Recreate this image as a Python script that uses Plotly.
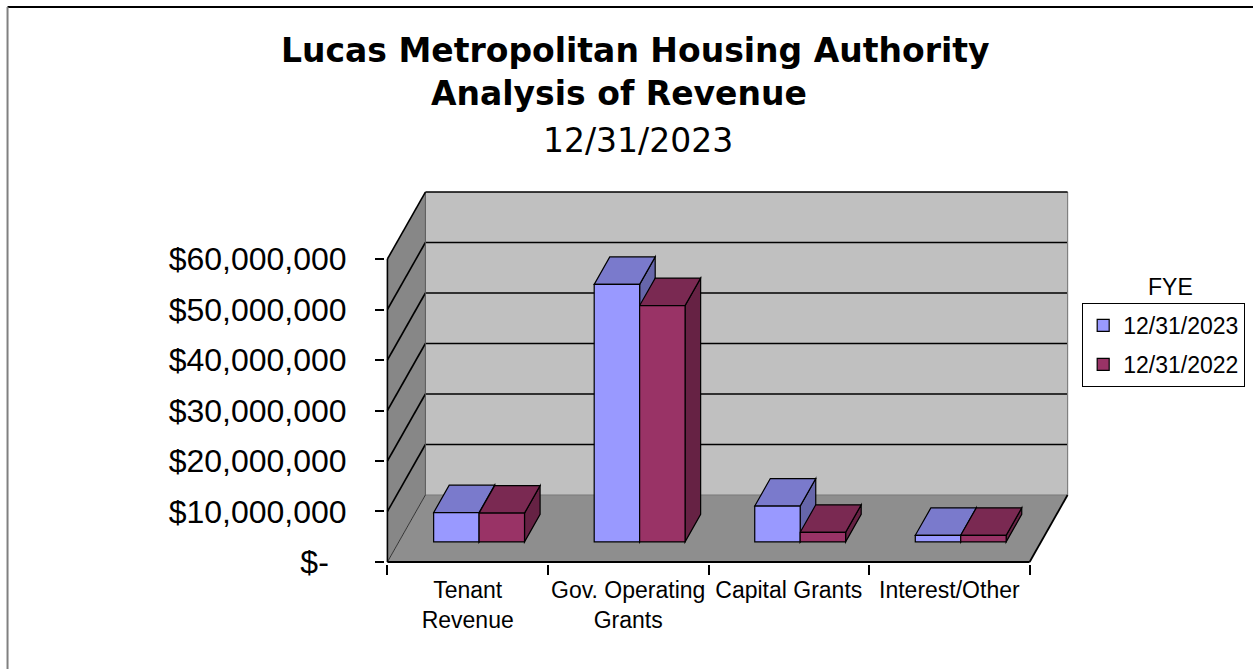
import plotly.graph_objects as go

# ---------------- data ----------------
categories = ["Tenant<br>Revenue", "Gov. Operating<br>Grants", "Capital Grants", "Interest/Other"]
series_names = ["12/31/2023", "12/31/2022"]
rev_2023 = [5.8e6, 51.0e6, 7.1e6, 1.3e6]
rev_2022 = [5.7e6, 46.8e6, 1.9e6, 1.3e6]
y_tick_values = [0, 10e6, 20e6, 30e6, 40e6, 50e6, 60e6]
y_tick_labels = ["$-\u00a0\u00a0", "$10,000,000", "$20,000,000", "$30,000,000",
                 "$40,000,000", "$50,000,000", "$60,000,000"]
title_lines = ["Lucas Metropolitan Housing Authority", "Analysis of Revenue", "12/31/2023"]
legend_title = "FYE"

# ---------------- geometry / styles ----------------
W, H = 1253, 669
X0_PX, CAT_PX = 387.0, 160.6          # pixel of x=0, pixels per category
Y0_PX, Y60_PX = 562.0, 259.0          # pixel of 0 and 60M on front plane
YMAX = 60e6
PXY = (Y0_PX - Y60_PX) / YMAX         # px per dollar
DX = 38.0 / CAT_PX                    # full depth offset (x units)
DY = 67.0 / PXY                       # full depth offset (y units)
NCAT = len(categories)

FRONT = 0.30      # bar front face depth fraction
BDEP = 0.41       # bar depth fraction
BW = 0.283        # bar width (category units)

xr = [-0.015, NCAT + DX + 0.015]
yr = [-0.4e6, YMAX + DY + 0.4e6]
m_l = X0_PX + xr[0] * CAT_PX
m_r = W - (X0_PX + xr[1] * CAT_PX)
m_b = H - (Y0_PX - yr[0] * PXY)
m_t = Y0_PX - yr[1] * PXY
plot_w = W - m_l - m_r
plot_h = H - m_t - m_b


def px_to_paper(px, py):
    return (px - m_l) / plot_w, (H - m_b - py) / plot_h


colors_front = ["#9999FF", "#993366"]
colors_top = ["#7A7ACC", "#7A2952"]
colors_side = ["#6666AA", "#662244"]

shapes = []


def poly(pts, fill, lw=0, lc="black", layer="below"):
    path = "M " + " L ".join(f"{x},{y}" for x, y in pts) + " Z"
    shapes.append(dict(type="path", xref="x", yref="y", path=path, fillcolor=fill,
                       line=dict(width=lw, color=lc), layer=layer))


def seg(p0, p1, lw=1.5, lc="black"):
    shapes.append(dict(type="line", xref="x", yref="y", x0=p0[0], y0=p0[1], x1=p1[0], y1=p1[1],
                       line=dict(width=lw, color=lc), layer="below"))


# walls and floor
poly([(0, 0), (DX, DY), (DX, YMAX + DY), (0, YMAX)], "#878787")
poly([(0, 0), (NCAT, 0), (NCAT + DX, DY), (DX, DY)], "#8E8E8E")
poly([(DX, DY), (NCAT + DX, DY), (NCAT + DX, YMAX + DY), (DX, YMAX + DY)], "#C0C0C0")

# gridlines
for v in y_tick_values[1:-1]:
    seg((DX, v + DY), (NCAT + DX, v + DY), 1.6)
    seg((0, v), (DX, v + DY), 1.6)

# edges
seg((DX, DY), (NCAT + DX, DY), 1, "#7a7a7a")
seg((DX, DY), (DX, YMAX + DY), 1, "#555555")
seg((0, 0), (DX, DY), 1, "#333333")
seg((NCAT + DX, DY), (NCAT + DX, YMAX + DY), 1.2, "#808080")
seg((DX, YMAX + DY), (NCAT + DX, YMAX + DY), 1.6)
seg((0, YMAX), (DX, YMAX + DY), 1.6)
seg((0, 0), (0, YMAX), 1.6)
seg((0, 0), (NCAT, 0), 1.8)
seg((NCAT, 0), (NCAT + DX, DY), 1.8)

# 3D top and side faces of bars (computed from data)
series = [rev_2023, rev_2022]
base = FRONT * DY
bdx, bdy = BDEP * DX, BDEP * DY
for i in range(NCAT):
    cx = i + 0.5 + FRONT * DX
    for s, vals in enumerate(series):
        xl = cx - BW if s == 0 else cx
        xrt = xl + BW
        top = base + vals[i]
        poly([(xrt, base), (xrt, top), (xrt + bdx, top + bdy), (xrt + bdx, base + bdy)],
             colors_side[s], 1.2)
        poly([(xl, top), (xrt, top), (xrt + bdx, top + bdy), (xl + bdx, top + bdy)],
             colors_top[s], 1.2)

fig = go.Figure()
for s, vals in enumerate(series):
    fig.add_trace(go.Bar(
        x=[i + 0.5 + FRONT * DX for i in range(NCAT)],
        y=vals,
        base=[base] * NCAT,
        width=BW,
        offset=-BW if s == 0 else 0,
        name=series_names[s],
        legendgroup=series_names[s],
        marker=dict(color=colors_front[s], line=dict(color="black", width=1.2)),
        hovertemplate="%{y:$,.0f}<extra>" + series_names[s] + "</extra>",
    ))

# chart frame (top and left edges)
fx0, fy0 = px_to_paper(7, 7)
fx1, _ = px_to_paper(W + 5, 7)
_, fy1 = px_to_paper(7, H + 5)
shapes.append(dict(type="line", xref="paper", yref="paper", x0=fx0, y0=fy0, x1=fx1, y1=fy0,
                   line=dict(color="black", width=2)))
shapes.append(dict(type="line", xref="paper", yref="paper", x0=fx0, y0=fy0, x1=fx0, y1=fy1,
                   line=dict(color="#808080", width=2)))

annotations = []
tx, ty = px_to_paper(635, 50)
annotations.append(dict(xref="paper", yref="paper", x=tx, y=ty, text="<b>" + title_lines[0] + "</b>",
                        showarrow=False, xanchor="center", yanchor="middle",
                        font=dict(family="DejaVu Sans", size=33, color="black")))
tx, ty = px_to_paper(619, 93)
annotations.append(dict(xref="paper", yref="paper", x=tx, y=ty, text="<b>" + title_lines[1] + "</b>",
                        showarrow=False, xanchor="center", yanchor="middle",
                        font=dict(family="DejaVu Sans", size=33, color="black")))
tx, ty = px_to_paper(638, 140)
annotations.append(dict(xref="paper", yref="paper", x=tx, y=ty, text=title_lines[2],
                        showarrow=False, xanchor="center", yanchor="middle",
                        font=dict(family="DejaVu Sans", size=33, color="black")))
tx, ty = px_to_paper(1170, 287)
annotations.append(dict(xref="paper", yref="paper", x=tx, y=ty, text=legend_title,
                        showarrow=False, xanchor="center", yanchor="middle",
                        font=dict(family="Liberation Sans, Arial", size=23, color="black")))

lx, ly = px_to_paper(1082, 303)

fig.update_layout(
    width=W, height=H, autosize=False,
    margin=dict(l=m_l, r=m_r, t=m_t, b=m_b, pad=0, autoexpand=False),
    paper_bgcolor="white", plot_bgcolor="white",
    barmode="overlay",
    showlegend=True,
    legend=dict(x=lx, y=ly, xanchor="left", yanchor="top", bgcolor="white",
                bordercolor="black", borderwidth=1, tracegroupgap=6,
                font=dict(family="Liberation Sans, Arial", size=23, color="black")),
    shapes=shapes,
    annotations=annotations,
    xaxis=dict(range=xr, showgrid=False, zeroline=False, showline=False,
               tickvals=[i + 0.5 for i in range(NCAT)], ticktext=categories,
               ticks="", ticklabelstandoff=10,
               tickfont=dict(family="Liberation Sans, Arial", size=23, color="black"),
               minor=dict(tickvals=list(range(NCAT + 1)), ticks="outside", ticklen=10,
                          tickwidth=1.5, tickcolor="black", showgrid=False),
               fixedrange=True),
    yaxis=dict(range=yr, showgrid=False, zeroline=False, showline=False,
               tickvals=y_tick_values, ticktext=y_tick_labels,
               ticks="outside", ticklen=9, tickwidth=1.5, tickcolor="black",
               ticklabelstandoff=22,
               tickfont=dict(family="Liberation Sans, Arial", size=32, color="black"),
               fixedrange=True),
)

fig.write_html("out.html")
